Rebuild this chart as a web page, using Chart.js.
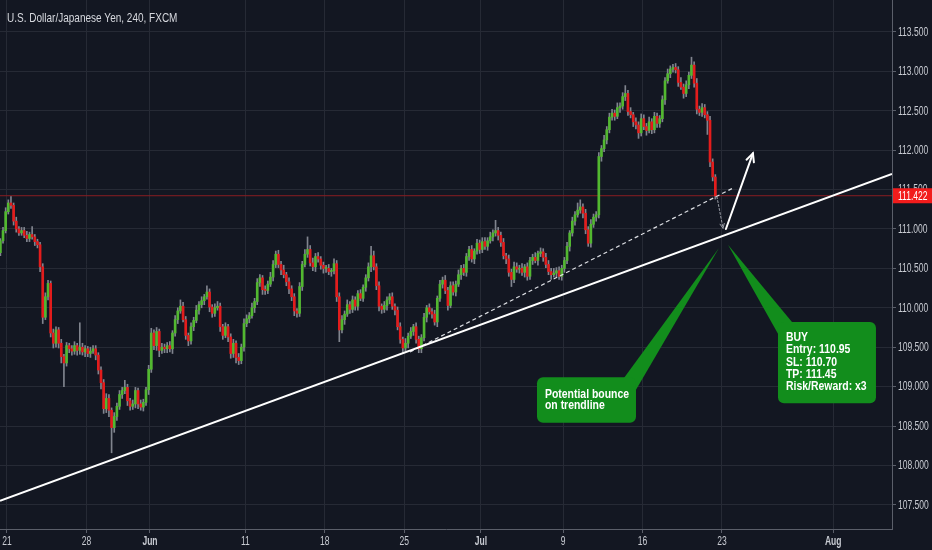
<!DOCTYPE html>
<html>
<head>
<meta charset="utf-8">
<script src="https://cdn.jsdelivr.net/npm/chart.js@4.4.0/dist/chart.umd.min.js"></script>
<style>
    html, body { margin: 0; padding: 0; background: #131722; overflow: hidden; }
    canvas { display: block; }
</style>
</head>
<body>
<canvas id="grafico" width="932" height="550"></canvas>
<script>
const FONTE = "'Liberation Sans', Arial, sans-serif";

const titulo = 'U.S. Dollar/Japanese Yen, 240, FXCM';

// velas de 4h, 6 por dia (18 mai -> 20 jul)
const primeiraAbertura = 110.70;
const fechamentos = [
    110.85, 110.98, 111.22,
    111.33, 111.30, 111.10, 111.00, 110.95, 110.98,
    110.92, 110.88, 110.93, 110.90, 110.84, 110.80,
    110.52, 109.88, 110.14, 110.31, 109.68, 109.55,
    109.72, 109.55, 109.38, 109.30, 109.52, 109.48,
    109.45, 109.52, 109.46, 109.50, 109.44, 109.48,
    109.42, 109.45, 109.48, 109.40, 109.21, 109.05,
    108.72, 108.85, 108.70, 108.48, 108.62, 108.75,
    108.90, 108.95, 108.99, 108.82, 108.75, 108.78,
    108.95, 108.78, 108.74, 108.80, 108.96, 109.22,
    109.68, 109.52, 109.70, 109.46, 109.50, 109.48,
    109.52, 109.48, 109.68, 109.85, 109.96, 110.02,
    109.85, 109.65, 109.58, 109.76, 109.84, 109.97,
    110.04, 110.09, 110.14, 110.20, 110.01, 109.93,
    110.00, 110.02, 109.76, 109.65, 109.76, 109.63,
    109.42, 109.55, 109.37, 109.33, 109.50, 109.80,
    109.86, 109.90, 110.00, 110.08, 110.32, 110.38,
    110.23, 110.22, 110.30, 110.39, 110.55, 110.68,
    110.55, 110.48, 110.42, 110.33, 110.24, 110.14,
    109.96, 109.93, 110.27, 110.55, 110.68, 110.74,
    110.57, 110.52, 110.65, 110.62, 110.54, 110.50,
    110.50, 110.46, 110.47, 110.56, 110.14, 109.72,
    109.85, 109.92, 110.04, 109.98, 110.10, 110.02,
    110.18, 110.12, 110.26, 110.38, 110.52, 110.66,
    110.52, 110.28, 110.02, 109.98, 110.03, 110.10,
    110.14, 110.02, 109.97, 109.76, 109.60, 109.49,
    109.55, 109.64, 109.70, 109.76, 109.60, 109.48,
    109.62, 109.88, 110.00, 109.95, 109.92, 109.82,
    110.12, 110.30, 110.35, 110.22, 110.03, 110.28,
    110.20, 110.30, 110.42, 110.50, 110.45, 110.65,
    110.74, 110.62, 110.72, 110.82, 110.74, 110.84,
    110.78, 110.85, 110.90, 110.95, 110.98, 110.92,
    110.83, 110.66, 110.62, 110.45, 110.36, 110.52,
    110.49, 110.50, 110.45, 110.52, 110.40, 110.60,
    110.64, 110.60, 110.69, 110.71, 110.64, 110.55,
    110.46, 110.42, 110.44, 110.47, 110.40, 110.50,
    110.60, 110.78, 110.95, 111.10, 111.18, 111.24,
    111.28, 111.20, 110.99, 110.82, 111.06, 111.15,
    111.18, 111.92, 112.02, 112.13, 112.26, 112.42,
    112.47, 112.43, 112.54, 112.56, 112.68, 112.72,
    112.49, 112.45, 112.36, 112.32, 112.22, 112.40,
    112.30, 112.25, 112.36, 112.26, 112.43, 112.34,
    112.40, 112.64, 112.88, 112.97, 113.03, 113.05,
    113.02, 112.86, 112.80, 112.72, 112.83, 112.95,
    113.08, 112.85, 112.52, 112.48, 112.54, 112.45,
    112.38, 111.85, 111.66, 111.42
];
// tamanho dos pavios em pips (acima do corpo / abaixo do corpo)
const pavioAlto = [
    3, 4, 5,
    4, 8, 3, 5, 3, 4,
    4, 5, 3, 10, 3, 3,
    3, 4, 5, 4, 3, 5,
    4, 3, 5, 3, 4, 3,
    4, 5, 3, 31, 5, 4,
    3, 5, 4, 4, 3, 4,
    4, 6, 5, 3, 5, 4,
    5, 4, 9, 4, 3, 5,
    4, 3, 5, 4, 3, 5,
    6, 4, 5, 3, 5, 4,
    4, 5, 3, 5, 4, 8,
    5, 4, 3, 5, 4, 6,
    4, 5, 3, 8, 4, 3,
    5, 6, 4, 3, 5, 3,
    4, 5, 3, 5, 4, 6,
    5, 4, 6, 4, 5, 4,
    3, 5, 4, 6, 5, 4,
    5, 4, 6, 3, 5, 4,
    4, 3, 5, 4, 6, 16,
    5, 6, 4, 5, 3, 4,
    4, 5, 3, 6, 4, 5,
    5, 4, 6, 4, 5, 4,
    4, 5, 3, 4, 5, 12,
    6, 4, 5, 3, 5, 4,
    4, 5, 3, 4, 5, 3,
    6, 4, 5, 3, 5, 4,
    4, 5, 3, 5, 4, 5,
    3, 5, 4, 6, 4, 5,
    5, 4, 6, 4, 5, 4,
    4, 5, 3, 5, 4, 5,
    5, 4, 6, 4, 13, 4,
    4, 5, 3, 5, 4, 6,
    5, 4, 6, 3, 5, 4,
    4, 6, 3, 5, 4, 5,
    5, 4, 6, 4, 5, 4,
    4, 5, 3, 5, 4, 9,
    9, 4, 5, 4, 6, 4,
    4, 5, 4, 6, 4, 5,
    5, 4, 6, 4, 5, 10,
    4, 5, 3, 5, 4, 6,
    5, 4, 6, 4, 5, 4,
    4, 5, 4, 6, 4, 4,
    5, 4, 6, 4, 5, 4,
    10, 4, 6, 4, 5, 4,
    4, 5, 4, 3
];
const pavioBaixo = [
    4, 3, 3,
    3, 4, 5, 4, 3, 3,
    3, 4, 4, 3, 5, 4,
    6, 8, 3, 4, 5, 6,
    5, 6, 8, 30, 4, 5,
    5, 4, 6, 5, 4, 6,
    4, 5, 3, 6, 5, 8,
    6, 5, 8, 32, 6, 5,
    4, 5, 4, 6, 5, 4,
    5, 6, 4, 5, 4, 6,
    4, 5, 6, 8, 4, 5,
    5, 4, 6, 4, 5, 3,
    3, 5, 6, 4, 5, 3,
    5, 4, 5, 3, 6, 5,
    4, 3, 6, 5, 3, 6,
    6, 5, 7, 5, 4, 5,
    4, 5, 3, 6, 4, 5,
    6, 5, 4, 3, 5, 4,
    4, 6, 4, 5, 6, 5,
    6, 5, 4, 5, 3, 4,
    4, 5, 6, 4, 5, 6,
    5, 4, 6, 4, 6, 15,
    4, 6, 3, 5, 4, 5,
    5, 3, 4, 5, 4, 6,
    4, 5, 6, 5, 4, 6,
    5, 4, 6, 4, 5, 6,
    4, 6, 3, 5, 5, 5,
    5, 4, 6, 3, 5, 4,
    6, 4, 5, 4, 6, 3,
    4, 5, 3, 6, 4, 5,
    5, 4, 6, 4, 5, 4,
    4, 5, 3, 5, 4, 6,
    5, 4, 6, 5, 9, 4,
    4, 5, 4, 6, 5, 4,
    5, 3, 6, 4, 5, 4,
    4, 6, 3, 5, 4, 5,
    5, 4, 6, 4, 5, 3,
    4, 6, 5, 4, 5, 4,
    5, 4, 6, 4, 5, 4,
    4, 5, 3, 6, 4, 5,
    5, 4, 6, 5, 7, 4,
    4, 6, 3, 5, 4, 5,
    5, 4, 6, 3, 5, 4,
    4, 5, 3, 6, 4, 5,
    4, 5, 6, 4, 5, 4,
    18, 6, 5, 4
];

// eixo x em unidades de vela (posicao 2.5 = inicio de 21 mai)
const limitesX = [-0.14, 336.72];
const tickPosX = [2.5, 32.5, 56.5, 92.5, 122.5, 152.5, 181.5, 212.5, 242.5, 272.5, 314.5];
const tickRotulosX = ['21', '28', 'Jun', '11', '18', '25', 'Jul', '9', '16', '23', 'Aug'];
const meses = ['Jun', 'Jul', 'Aug'];

const limitesY = [107.193, 113.906];
const tickValoresY = [107.5, 108, 108.5, 109, 109.5, 110, 110.5, 111, 111.5, 112, 112.5, 113, 113.5];

const precoAtual = 111.422;

// desenhos
const tendenciaX = [-0.14, 336.72];
const tendenciaY = [107.55, 111.70];
const tracejadaX = [154.7, 276.7];
const tracejadaY = [109.44, 111.52];

const setas = [
    { de: [270.6, 111.41], para: [272.9, 111.01], cor: '#9a9da6', largura: 1, traco: [2, 2], cabeca: 5 },
    { de: [274.0, 111.00], para: [284.2, 111.96], cor: '#ffffff', largura: 2, traco: [], cabeca: 9 }
];

const baloes = [
    {
        caixa: [202.65, 109.12, 240.04, 108.54],
        ponta: [271.38, 110.76], base1: [235.5, 109.11], base2: [240.04, 108.96],
        linhas: ['Potential bounce', 'on trendline'],
        topoTexto: 18, alturaLinha: 11
    },
    {
        caixa: [293.66, 109.82, 330.67, 108.79],
        ponta: [274.78, 110.80], base1: [293.66, 109.67], base2: [298.95, 109.82],
        linhas: ['BUY', 'Entry: 110.95', 'SL: 110.70', 'TP: 111.45', 'Risk/Reward: x3'],
        topoTexto: 16, alturaLinha: 12.2
    }
];

const COR_ALTA = '#52b830';
const COR_BAIXA = '#e31c1c';
const COR_PAVIO = '#80848e';
const COR_GRADE = '#262a35';
const COR_EIXO = '#5b5f6a';
const COR_BALAO = '#128d1c';
const COR_TEXTO = '#c8cbd2';

// a imagem original esta comprimida na horizontal: os textos tambem
const FATOR_EIXO = 0.71;
const FATOR_TITULO = 0.77;
const FATOR_BALAO = 0.87;

const aberturas = fechamentos.map((c, i) => i === 0 ? primeiraAbertura : fechamentos[i - 1]);
const maximas = fechamentos.map((c, i) => Math.max(aberturas[i], c) + pavioAlto[i] / 100);
const minimas = fechamentos.map((c, i) => Math.min(aberturas[i], c) - pavioBaixo[i] / 100);
const coresVelas = fechamentos.map((c, i) => c >= aberturas[i] ? COR_ALTA : COR_BAIXA);

function px(chart, ponto) {
    return [chart.scales.x.getPixelForValue(ponto[0]), chart.scales.y.getPixelForValue(ponto[1])];
}

function escrever(ctx, txt, x, y, fator, alinhamento) {
    ctx.save();
    ctx.translate(x, y);
    ctx.scale(fator, 1);
    ctx.textAlign = alinhamento || 'left';
    ctx.textBaseline = 'middle';
    ctx.fillText(txt, 0, 0);
    ctx.restore();
}

function desenharSeta(ctx, chart, s) {
    const [x1, y1] = px(chart, s.de);
    const [x2, y2] = px(chart, s.para);
    ctx.save();
    ctx.strokeStyle = s.cor;
    ctx.lineWidth = s.largura;
    ctx.lineCap = 'round';
    ctx.setLineDash(s.traco);
    ctx.beginPath();
    ctx.moveTo(x1, y1);
    ctx.lineTo(x2, y2);
    ctx.stroke();
    ctx.setLineDash([]);
    const ang = Math.atan2(y2 - y1, x2 - x1);
    ctx.beginPath();
    ctx.moveTo(x2 - s.cabeca * Math.cos(ang - 0.45), y2 - s.cabeca * Math.sin(ang - 0.45));
    ctx.lineTo(x2, y2);
    ctx.lineTo(x2 - s.cabeca * Math.cos(ang + 0.45), y2 - s.cabeca * Math.sin(ang + 0.45));
    ctx.stroke();
    ctx.restore();
}

function desenharBalao(ctx, chart, b) {
    const [l, t] = px(chart, [b.caixa[0], b.caixa[1]]);
    const [r, bt] = px(chart, [b.caixa[2], b.caixa[3]]);
    const p0 = px(chart, b.ponta);
    const p1 = px(chart, b.base1);
    const p2 = px(chart, b.base2);
    ctx.save();
    ctx.fillStyle = COR_BALAO;
    ctx.beginPath();
    ctx.moveTo(p0[0], p0[1]);
    ctx.lineTo(p1[0], p1[1]);
    ctx.lineTo(p2[0], p2[1]);
    ctx.closePath();
    ctx.fill();
    ctx.beginPath();
    ctx.roundRect(l, t, r - l, bt - t, 6);
    ctx.fill();
    ctx.fillStyle = '#ffffff';
    ctx.font = `bold 12px ${FONTE}`;
    b.linhas.forEach((txt, i) => {
        escrever(ctx, txt, l + 8, t + b.topoTexto + i * b.alturaLinha, FATOR_BALAO);
    });
    ctx.restore();
}

const pluginDesenhos = {
    id: 'desenhos',
    beforeDraw(chart) {
        const ctx = chart.ctx;
        ctx.save();
        ctx.fillStyle = '#131722';
        ctx.fillRect(0, 0, chart.width, chart.height);
        ctx.restore();
    },
    afterDatasetsDraw(chart) {
        const ctx = chart.ctx;
        const area = chart.chartArea;
        ctx.save();
        ctx.beginPath();
        ctx.rect(area.left, area.top, area.right - area.left, area.bottom - area.top);
        ctx.clip();
        baloes.forEach(b => desenharBalao(ctx, chart, b));
        setas.forEach(s => desenharSeta(ctx, chart, s));
        ctx.restore();
    },
    afterDraw(chart) {
        const ctx = chart.ctx;
        const area = chart.chartArea;
        const sx = chart.scales.x;
        const sy = chart.scales.y;
        ctx.save();

        ctx.fillStyle = '#d6d8de';
        ctx.font = `13px ${FONTE}`;
        escrever(ctx, titulo, area.left + 7, area.top + 18, FATOR_TITULO);

        // rotulos do eixo de precos
        ctx.fillStyle = COR_TEXTO;
        ctx.font = `12px ${FONTE}`;
        tickValoresY.forEach(v => {
            escrever(ctx, v.toFixed(3), area.right + 6, sy.getPixelForValue(v) + 0.5, FATOR_EIXO);
        });

        // rotulos do eixo de tempo
        tickPosX.forEach((v, i) => {
            const negrito = meses.includes(tickRotulosX[i]);
            ctx.font = `${negrito ? 'bold ' : ''}12px ${FONTE}`;
            escrever(ctx, tickRotulosX[i], sx.getPixelForValue(v), area.bottom + 13, FATOR_EIXO, 'center');
        });

        // etiqueta do preco atual
        const yp = sy.getPixelForValue(precoAtual);
        ctx.fillStyle = '#f21c1c';
        ctx.fillRect(area.right + 1, yp - 7.5, chart.width - area.right - 1, 15);
        ctx.fillStyle = '#ffffff';
        ctx.font = `12px ${FONTE}`;
        escrever(ctx, precoAtual.toFixed(3), area.right + 6, yp + 0.5, FATOR_EIXO);
        ctx.restore();
    }
};

let chartVelas;
function renderizarGrafico() {
    const ctx = document.getElementById('grafico').getContext('2d');
    if (chartVelas) chartVelas.destroy();
    chartVelas = new Chart(ctx, {
        type: 'bar',
        data: {
            datasets: [
                {
                    type: 'line',
                    data: limitesX.map(x => ({ x, y: precoAtual })),
                    borderColor: '#8a1d22',
                    borderWidth: 1,
                    pointRadius: 0,
                    order: 6
                },
                {
                    data: fechamentos.map((c, i) => ({ x: i, y: [minimas[i], maximas[i]] })),
                    backgroundColor: COR_PAVIO,
                    barThickness: 1,
                    grouped: false,
                    order: 5
                },
                {
                    data: fechamentos.map((c, i) => ({ x: i, y: [aberturas[i], c] })),
                    backgroundColor: coresVelas,
                    barThickness: 2,
                    minBarLength: 1,
                    grouped: false,
                    order: 4
                },
                {
                    type: 'line',
                    data: tracejadaX.map((x, i) => ({ x, y: tracejadaY[i] })),
                    borderColor: '#dcdee3',
                    borderWidth: 1.2,
                    borderDash: [4, 3],
                    pointRadius: 0,
                    order: 3
                },
                {
                    type: 'line',
                    data: tendenciaX.map((x, i) => ({ x, y: tendenciaY[i] })),
                    borderColor: '#ffffff',
                    borderWidth: 2,
                    pointRadius: 0,
                    order: 2
                }
            ]
        },
        options: {
            responsive: false,
            animation: false,
            devicePixelRatio: 1,
            events: [],
            layout: { padding: 0 },
            plugins: { legend: { display: false }, tooltip: { enabled: false } },
            scales: {
                x: {
                    type: 'linear',
                    min: limitesX[0],
                    max: limitesX[1],
                    offset: false,
                    afterBuildTicks: s => { s.ticks = tickPosX.map(v => ({ value: v })); },
                    afterFit: s => { s.height = 21; s.paddingLeft = 0; s.paddingRight = 0; },
                    grid: { color: COR_GRADE, tickColor: COR_EIXO, tickLength: 4, offset: false },
                    border: { color: COR_EIXO },
                    ticks: { display: false, autoSkip: false, maxRotation: 0 }
                },
                y: {
                    position: 'right',
                    min: limitesY[0],
                    max: limitesY[1],
                    afterBuildTicks: s => { s.ticks = tickValoresY.map(v => ({ value: v })); },
                    afterFit: s => { s.width = 40; s.paddingTop = 0; s.paddingBottom = 0; },
                    grid: { color: COR_GRADE, tickColor: COR_EIXO, tickLength: 4 },
                    border: { color: COR_EIXO },
                    ticks: { display: false, autoSkip: false }
                }
            }
        },
        plugins: [pluginDesenhos]
    });
}

renderizarGrafico();
</script>
</body>
</html>
